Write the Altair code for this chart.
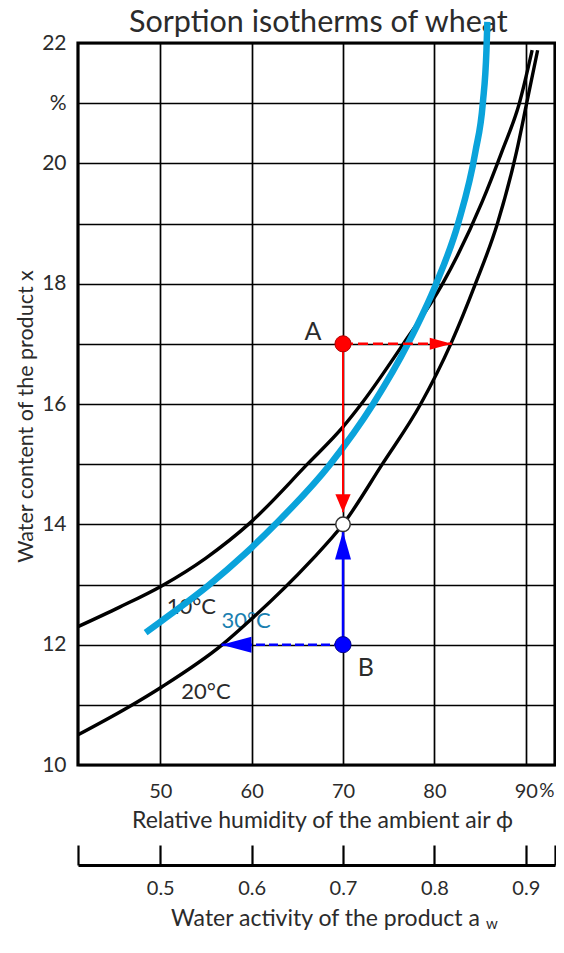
import altair as alt
import pandas as pd

# ---------------- data ----------------
# isotherms: relative humidity of the air (%) vs water content of the product (%)
rh_10c = [41.0, 45.5, 50.2, 55.0, 59.8, 66.1, 70.0, 72.0, 76.6, 80.9, 85.2, 87.4, 89.3, 90.7]
x_10c = [12.30, 12.62, 12.98, 13.44, 14.02, 15.0, 15.62, 16.0, 17.0, 18.0, 19.35, 20.2, 21.0, 21.88]
rh_20c = [41.0, 46.4, 50.2, 56.8, 59.8, 66.4, 70.0, 74.3, 78.5, 81.8, 84.5, 86.9, 89.0, 90.1, 91.3]
x_20c = [10.5, 10.95, 11.3, 12.0, 12.4, 13.38, 14.0, 15.0, 16.0, 17.0, 18.0, 19.0, 20.2, 21.0, 21.88]
rh_30c = [48.4, 50.2, 55.4, 59.2, 62.6, 68.6, 73.3, 77.1, 80.2, 82.6, 84.5, 85.3, 85.7, 85.8]
x_30c = [12.2, 12.4, 13.0, 13.5, 14.0, 15.0, 16.0, 17.0, 18.0, 19.0, 20.2, 21.0, 21.88, 22.35]

# state points
pt_name = ["A", "W", "B"]
pt_rh = [70, 70, 70]
pt_x = [17, 14, 12]

# arrows (start -> tip)
arrow_name = ["A_down", "A_right", "B_up", "B_left"]
arrow_rh1 = [70, 70, 70, 70]
arrow_x1 = [17, 17, 12, 12]
arrow_rh2 = [70, 81.9, 70, 56.7]
arrow_x2 = [14.2, 17, 13.88, 12]

# labels
curve_label = ["10°C", "20°C", "30°C"]
curve_label_rh = [53.4, 55.0, 59.4]
curve_label_x = [12.62, 11.22, 12.4]
point_label = ["A", "B"]
point_label_rh = [66.7, 72.5]
point_label_x = [17.19, 11.62]
extra_text = ["%", "w"]
extra_rh = [92.3, 86.3]
extra_x = [9.56, 7.36]
title_text = ["Sorption isotherms of wheat"]
title_rh = [67.3]
title_x = [22.18]

# axes
rh_domain = [41, 93.2]
x_domain = [10, 22]
rh_ticks = [50, 60, 70, 80, 90]
x_ticks = list(range(10, 23))
aw_domain = [0.41, 0.932]
aw_ticks = [0.5, 0.6, 0.7, 0.8, 0.9]

X_TITLE = "Relative humidity of the ambient air ϕ"
Y_TITLE = "Water content of the product x"
AW_TITLE = "Water activity of the product a"

# ---------------- tables ----------------
curves = pd.DataFrame({
    "rh": rh_10c + rh_20c + rh_30c,
    "m": x_10c + x_20c + x_30c,
    "curve": ["10"] * len(rh_10c) + ["20"] * len(rh_20c) + ["30"] * len(rh_30c),
})
points = pd.DataFrame({"rh": pt_rh, "m": pt_x, "name": pt_name})
arrows = pd.DataFrame({"rh": arrow_rh1, "m": arrow_x1, "rh2": arrow_rh2, "m2": arrow_x2, "name": arrow_name})
heads = pd.DataFrame({"rh": arrow_rh2, "m": arrow_x2, "name": arrow_name})
clabels = pd.DataFrame({"rh": curve_label_rh, "m": curve_label_x, "text": curve_label})
plabels = pd.DataFrame({"rh": point_label_rh, "m": point_label_x, "text": point_label})
etexts = pd.DataFrame({"rh": extra_rh, "m": extra_x, "text": extra_text})
ttext = pd.DataFrame({"rh": title_rh, "m": title_x, "text": title_text})
aw_df = pd.DataFrame({"aw": aw_ticks})

FONT = "Lato, 'DejaVu Sans', sans-serif"
TXT = "#2b2b2b"
RED = "#ff0000"
BLUE = "#0000ff"
CYAN = "#0aa3db"

xs = alt.Scale(domain=rh_domain, nice=False, zero=False)
ys = alt.Scale(domain=x_domain, nice=False, zero=False)

x_axis = alt.Axis(
    values=rh_ticks, grid=True, gridColor="black", gridWidth=1.7, gridOpacity=1,
    ticks=False, tickSize=0, domain=False, labelFlush=False, labelOverlap=False,
    labelFont=FONT, labelFontSize=20, labelColor=TXT, labelPadding=16,
    title=X_TITLE, titleFont=FONT, titleFontSize=23, titleFontWeight="normal",
    titleColor=TXT, titleBaseline="alphabetic", titleY=62, titleX=244, titleAlign="center",
)
y_axis = alt.Axis(
    values=x_ticks, grid=True, gridColor="black", gridWidth=1.7, gridOpacity=1,
    ticks=False, tickSize=0, domain=False, labelFlush=False, labelOverlap=False,
    labelExpr="datum.value == 21 ? '%' : (datum.value % 2 == 0 ? datum.label : '')",
    labelFont=FONT, labelFontSize=21, labelColor=TXT, labelPadding=12,
    title=Y_TITLE, titleFont=FONT, titleFontSize=21.5, titleFontWeight="normal",
    titleColor=TXT, titleBaseline="alphabetic", titleAngle=270, titleX=-46, titleY=373,
    titleAlign="center",
)

X = alt.X("rh:Q", scale=xs, axis=x_axis, title=X_TITLE)
Y = alt.Y("m:Q", scale=ys, axis=y_axis, title=Y_TITLE)


def txt(df, size, color, baseline="middle"):
    return alt.Chart(df).mark_text(font=FONT, fontSize=size, color=color,
                                   align="center", baseline=baseline).encode(
        x=X, y=Y, text="text:N")


title_layer = txt(ttext, 30.5, TXT, "alphabetic")
label_layer = txt(clabels.iloc[[0, 1]], 22, TXT)
label30 = txt(clabels.iloc[[2]], 22, "#1a7fb0")
plabel_layer = txt(plabels, 25, TXT)
pct = txt(etexts.iloc[[0]], 19, TXT)
sub_w = txt(etexts.iloc[[1]], 15, TXT)

black = alt.Chart(curves).transform_filter("datum.curve != '30'").mark_line(
    color="black", strokeWidth=3.4, interpolate="monotone").encode(x=X, y=Y, detail="curve:N")
blue = alt.Chart(curves).transform_filter("datum.curve == '30'").mark_line(
    color=CYAN, strokeWidth=6.5, interpolate="monotone").encode(x=X, y=Y)


def arrow_line(name, color, width, dash=None):
    kw = {"strokeDash": dash} if dash else {}
    return alt.Chart(arrows).transform_filter(f"datum.name == '{name}'").mark_rule(
        color=color, strokeWidth=width, **kw).encode(x=X, y=Y, x2="rh2:Q", y2="m2:Q")


def head(name, color, path):
    return alt.Chart(heads).transform_filter(f"datum.name == '{name}'").mark_point(
        filled=True, color=color, opacity=1, size=64, shape=path, strokeWidth=0).encode(x=X, y=Y)


arrows_layer = [
    arrow_line("A_down", RED, 2),
    arrow_line("A_right", RED, 2.5, [10, 5]),
    arrow_line("B_up", BLUE, 2.5),
    arrow_line("B_left", BLUE, 2.5, [9, 4]),
    head("A_down", RED, "M0,0L-1.9,-4.5L1.9,-4.5Z"),
    head("A_right", RED, "M0,0L-5.5,-1.5L-5.5,1.5Z"),
    head("B_up", BLUE, "M0,0L-2,7L2,7Z"),
    head("B_left", BLUE, "M0,0L7.5,-2L7.5,2Z"),
]


def dot(name, fill, stroke, size, sw):
    return alt.Chart(points).transform_filter(f"datum.name == '{name}'").mark_point(
        filled=True, fill=fill, stroke=stroke, strokeWidth=sw, size=size, opacity=1,
        shape="circle").encode(x=X, y=Y)


dots = [
    dot("A", RED, "#b00000", 260, 1),
    dot("W", "#ffffff", "#333333", 210, 1.5),
    dot("B", BLUE, "#00008b", 260, 1),
]

main = alt.layer(title_layer, label_layer, label30, black, blue, *arrows_layer, *dots,
                 plabel_layer, pct, sub_w)

aw_scale = alt.Scale(domain=aw_domain, nice=False, zero=False)
aw_axis = alt.Axis(
    orient="bottom", offset=80, values=[aw_domain[0]] + aw_ticks + [aw_domain[1]],
    grid=False, domain=False, ticks=True, tickSize=20, tickWidth=2.2, tickColor="black",
    labelExpr="(datum.value < 0.45 || datum.value > 0.92) ? '' : format(datum.value, '.1f')",
    labelFlush=False, labelOverlap=False,
    labelFont=FONT, labelFontSize=20, labelColor=TXT, labelPadding=13,
    title=AW_TITLE, titleFont=FONT, titleFontSize=23, titleFontWeight="normal",
    titleColor=TXT, titleBaseline="alphabetic", titleY=80, titleX=247, titleAlign="center",
)
aw_line_axis = alt.Axis(
    orient="bottom", offset=100, grid=False, domain=True, domainColor="black",
    domainWidth=3, ticks=False, labels=False, title=None,
)
aw_layer = alt.Chart(aw_df).mark_point(opacity=0).encode(
    x=alt.X("aw:Q", scale=aw_scale, axis=aw_axis))
aw_line = alt.Chart(aw_df).mark_point(opacity=0).encode(
    x=alt.X("aw:Q", scale=aw_scale, axis=aw_line_axis))

chart = alt.layer(main, aw_layer, aw_line).resolve_scale(x="independent").properties(
    width=477, height=722,
    autosize=alt.AutoSizeParams(type="none"),
    padding={"left": 70, "top": 35, "right": 1, "bottom": 173},
).configure_view(stroke="black", strokeWidth=3.2)

chart.save("out.html", embed_options={"renderer": "svg", "actions": False})
